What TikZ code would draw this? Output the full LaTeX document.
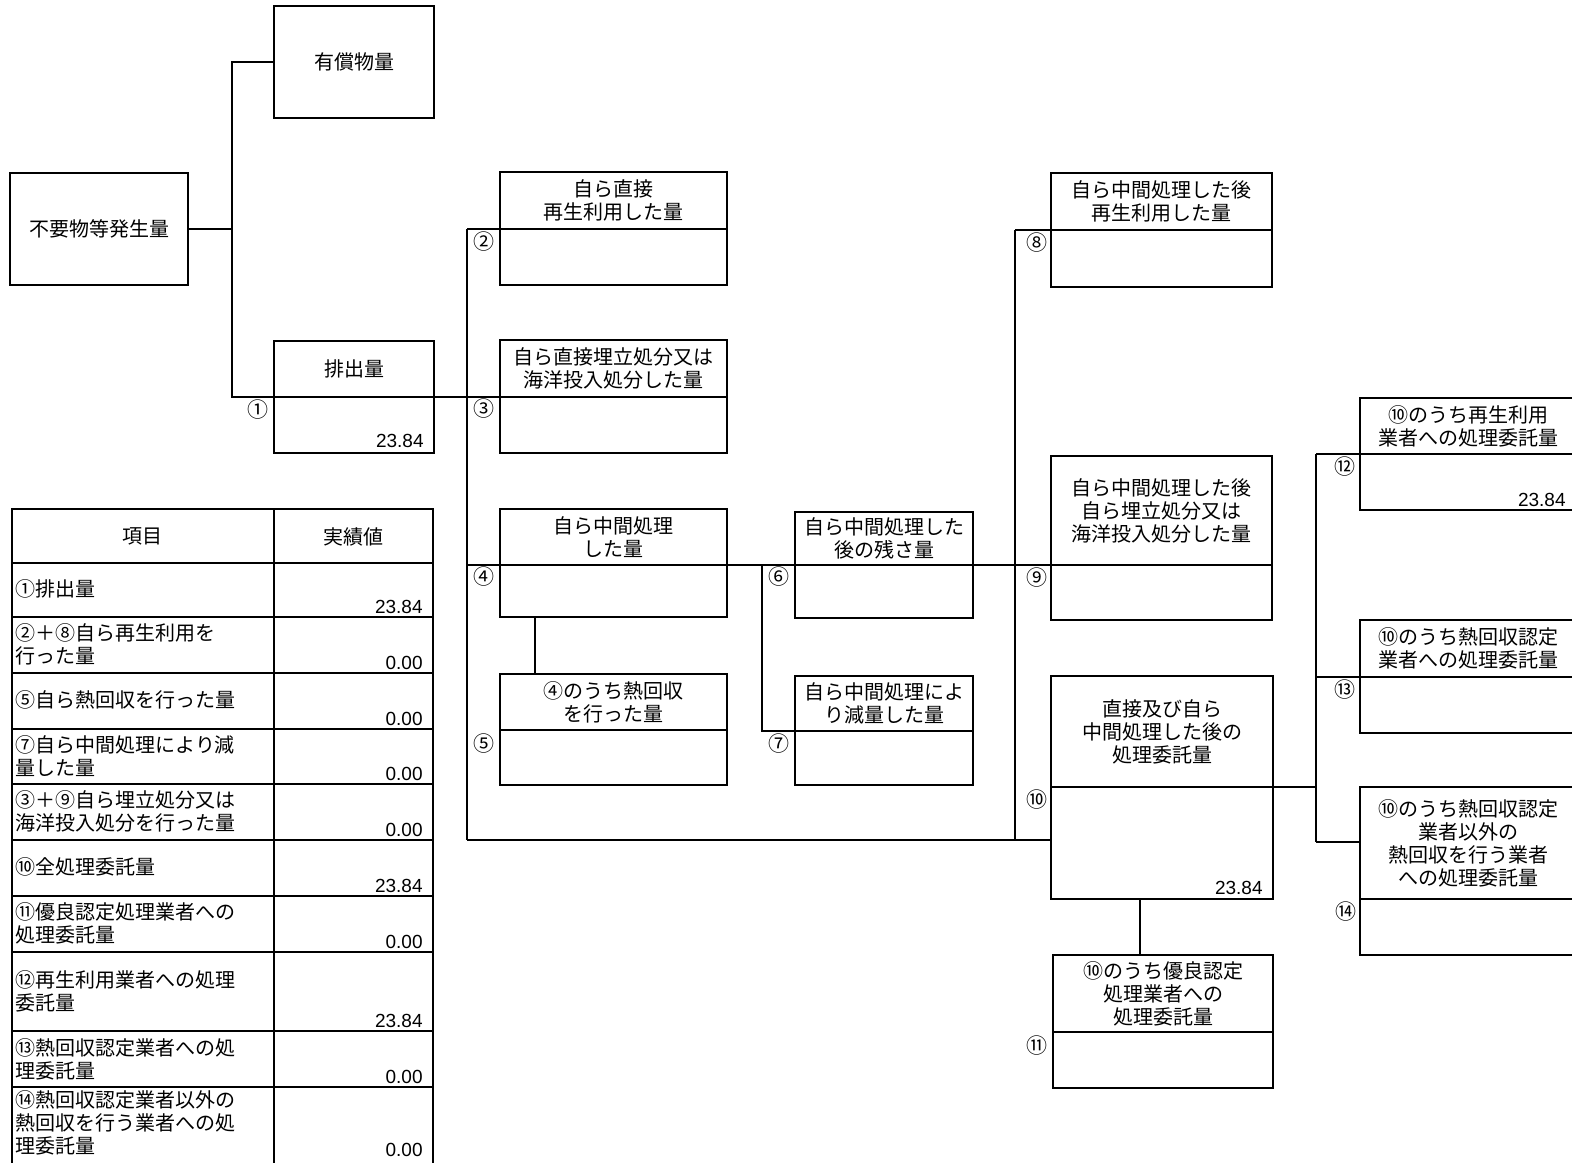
\documentclass[tikz,border=0pt]{standalone}
\usepackage{fontspec}
\setmainfont{Noto Sans CJK JP}
\newfontfamily\numfont{Liberation Sans}
\usetikzlibrary{fit,calc}
% name, x1, y1, x2, y2, ydiv, title
\newcommand\flowbox[7]{%
  \node[boxsty, fit={(#2,#3) (#4,#5)}] (#1) {};
  \coordinate (#1-dl) at (#2,#6);
  \coordinate (#1-dr) at (#4,#6);
  \draw[boxline] (#1-dl) -- (#1-dr);
  \node[titlesty] (#1-t) at ($(#2,#3)!0.5!(#4,#6)$) {#7};
}
\begin{document}
\begin{tikzpicture}[x=0.5pt,y=-0.5pt,
  conn/.style={line width=0.8pt},
  boxline/.style={line width=1pt},
  boxsty/.style={draw, inner sep=0pt, line width=1pt},
  titlesty/.style={align=center, font=\fontsize{10}{11.5}\selectfont, inner sep=0pt},
  numsty/.style={font=\fontsize{10.5}{11}\selectfont, inner sep=0pt},
  valsty/.style={font=\numfont\fontsize{9.5}{10}\selectfont, inner sep=0pt, anchor=base east},
  tabtxt/.style={align=left, anchor=north west, font=\fontsize{10}{11.5}\selectfont, inner sep=0pt}]
\useasboundingbox (0,0) rectangle (1572,1162);
\fill[white] (0,0) rectangle (1572,1162);

% ---------- top-left boxes ----------
\node[boxsty, fit={(10,173) (188,285)}] (b0) {};
\node[titlesty] (b0-t) at (b0.center) {不要物等発生量};
\node[boxsty, fit={(274,6) (434,118)}] (yu) {};
\node[titlesty] (yu-t) at (yu.center) {有償物量};
\flowbox{b1}{274}{341}{434}{453}{397}{排出量}
\node[valsty] (v1) at (424,447) {23.84};

% ---------- flow boxes ----------
\flowbox{b2}{500}{172}{727}{285}{229}{自ら直接\\再生利用した量}
\flowbox{b3}{500}{340}{727}{453}{397}{自ら直接埋立処分又は\\海洋投入処分した量}
\flowbox{b4}{500}{509}{727}{617}{565}{自ら中間処理\\した量}
\flowbox{b5}{500}{674}{727}{785}{730}{④のうち熱回収\\を行った量}
\flowbox{b6}{795}{512}{973}{618}{565}{自ら中間処理した\\後の残さ量}
\flowbox{b7}{795}{676}{973}{785}{731}{自ら中間処理によ\\り減量した量}
\flowbox{b8}{1051}{173}{1272}{287}{230}{自ら中間処理した後\\再生利用した量}
\flowbox{b9}{1051}{456}{1272}{620}{565}{自ら中間処理した後\\自ら埋立処分又は\\海洋投入処分した量}
\flowbox{b10}{1051}{676}{1273}{899}{787}{直接及び自ら\\中間処理した後の\\処理委託量}
\node[valsty] (v10) at (1263,894) {23.84};
\flowbox{b11}{1053}{955}{1273}{1088}{1032}{⑩のうち優良認定\\処理業者への\\処理委託量}
\flowbox{b12}{1360}{398}{1576}{510}{454}{⑩のうち再生利用\\業者への処理委託量}
\node[valsty] (v12) at (1566,506) {23.84};
\flowbox{b13}{1360}{620}{1576}{733}{677}{⑩のうち熱回収認定\\業者への処理委託量}
\flowbox{b14}{1360}{787}{1576}{955}{899}{⑩のうち熱回収認定\\業者以外の\\熱回収を行う業者\\への処理委託量}

% ---------- circled numbers ----------
\node[numsty] (n1) at (258,410) {①};
\node[numsty] (n2) at (484,242) {②};
\node[numsty] (n3) at (484,409) {③};
\node[numsty] (n4) at (484,577) {④};
\node[numsty] (n5) at (484,744) {⑤};
\node[numsty] (n6) at (779,577) {⑥};
\node[numsty] (n7) at (779,744) {⑦};
\node[numsty] (n8) at (1037,243) {⑧};
\node[numsty] (n9) at (1037,578) {⑨};
\node[numsty] (n10) at (1037,800) {⑩};
\node[numsty] (n11) at (1037,1045) {⑪};
\node[numsty] (n12) at (1345,467) {⑫};
\node[numsty] (n13) at (1345,690) {⑬};
\node[numsty] (n14) at (1346,912) {⑭};

% ---------- connectors ----------
\coordinate (j0) at (232,229);
\draw[conn] (b0.east |- j0) -- (j0);
\draw[conn] (yu.west) -| (j0) |- (b1-dl);
\draw[conn] (b1-dr) -- (b3-dl);
\coordinate (ja) at (467,229);
\coordinate (jb) at (467,840);
\draw[conn] (ja) -- (jb);
\draw[conn] (ja) -- (b2-dl);
\draw[conn] (ja |- b4-dl) -- (b4-dl);
\draw[conn] (b4-dr) -- (b6-dl);
\draw[conn] (b6-dr) -- (b9-dl);
\draw[conn] (jb) -- (b10.west |- jb);
\coordinate (k5) at ($(b4.south west)+(36,0)$);
\draw[conn] (k5) -- (k5 |- b5.north);
\coordinate (jc) at (762,565);
\draw[conn] (jc) |- (b7-dl);
\coordinate (jd) at (1015,230);
\draw[conn] (jd) -- (b8-dl);
\draw[conn] (jd) -- (jd |- jb);
\coordinate (je) at (1316,787);
\draw[conn] (b10-dr) -- (je);
\coordinate (jf) at (1316,454);
\coordinate (jg) at (1316,842);
\draw[conn] (jf) -- (jg);
\draw[conn] (jf) -- (b12-dl);
\draw[conn] (jf |- b13-dl) -- (b13-dl);
\draw[conn] (jg) -- (b14.west |- jg);
\coordinate (k11) at ($(b10.south west)+(90,0)$);
\draw[conn] (k11) -- (k11 |- b11.north);

% ---------- table ----------
\draw[boxline] (12,1170) -- (12,509) -- (433,509) -- (433,1170);
\draw[boxline] (274,509) -- (274,1170);
\foreach \yy in {563,617,673,729,784,840,896,952,1031,1087}
  \draw[boxline] (12,\yy) -- (433,\yy);
\node[titlesty] (h1) at (142,536) {項目};
\node[titlesty] (h2) at (353,537) {実績値};
\node[tabtxt] (r1) at (15,579) {①排出量};
\node[tabtxt] (r2) at (15,623) {②＋⑧自ら再生利用を\\行った量};
\node[tabtxt] (r3) at (15,690) {⑤自ら熱回収を行った量};
\node[tabtxt] (r4) at (15,735) {⑦自ら中間処理により減\\量した量};
\node[tabtxt] (r5) at (15,790) {③＋⑨自ら埋立処分又は\\海洋投入処分を行った量};
\node[tabtxt] (r6) at (15,857) {⑩全処理委託量};
\node[tabtxt] (r7) at (15,902) {⑪優良認定処理業者への\\処理委託量};
\node[tabtxt] (r8) at (15,970) {⑫再生利用業者への処理\\委託量};
\node[tabtxt] (r9) at (15,1038) {⑬熱回収認定業者への処\\理委託量};
\node[tabtxt] (r10) at (15,1090) {⑭熱回収認定業者以外の\\熱回収を行う業者への処\\理委託量};
\node[valsty] (w1) at (423,613) {23.84};
\node[valsty] (w2) at (423,669) {0.00};
\node[valsty] (w3) at (423,725) {0.00};
\node[valsty] (w4) at (423,780) {0.00};
\node[valsty] (w5) at (423,836) {0.00};
\node[valsty] (w6) at (423,892) {23.84};
\node[valsty] (w7) at (423,948) {0.00};
\node[valsty] (w8) at (423,1027) {23.84};
\node[valsty] (w9) at (423,1083) {0.00};
\node[valsty] (w10) at (423,1156) {0.00};
\end{tikzpicture}
\end{document}
